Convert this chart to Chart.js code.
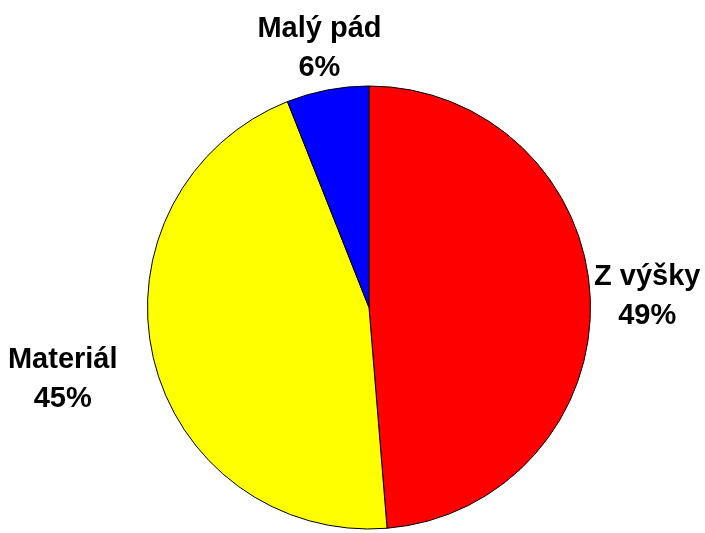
<!DOCTYPE html>
<html>
<head>
<meta charset="utf-8">
<script src="https://cdn.jsdelivr.net/npm/chart.js@4/dist/chart.umd.min.js"></script>
<style>
  html, body { margin: 0; padding: 0; background: #fff; }
  #wrap { width: 705px; height: 533px; }
</style>
</head>
<body>
<div id="wrap"><canvas id="pieChart"></canvas></div>
<script>
const categories = ['Z výšky', 'Materiál', 'Malý pád'];
const shares = [48.7, 45.3, 6.0];
const sliceColors = ['#ff0000', '#ffff00', '#0000ff'];

// draws "name / percent" outside each slice
const outsideLabels = {
    id: 'outsideLabels',
    afterDraw(chart, args, opts) {
        const ctx = chart.ctx;
        const meta = chart.getDatasetMeta(0);
        ctx.save();
        ctx.font = 'bold 29px "Liberation Sans", Arial, sans-serif';
        ctx.fillStyle = '#000';
        ctx.textAlign = 'center';
        ctx.textBaseline = 'middle';
        meta.data.forEach((arc, i) => {
            const mid = (arc.startAngle + arc.endAngle) / 2;
            const d = arc.outerRadius + opts.gap[i];
            const x = arc.x + Math.cos(mid) * d;
            const y = arc.y + Math.sin(mid) * d;
            ctx.fillText(chart.data.labels[i], x, y - 19);
            ctx.fillText(Math.round(shares[i]) + '%', x, y + 20);
        });
        ctx.restore();
    }
};

const ctx = document.getElementById('pieChart').getContext('2d');
new Chart(ctx, {
    type: 'pie',
    data: {
        labels: categories,
        datasets: [{
            data: shares,
            backgroundColor: sliceColors,
            borderColor: '#000000',
            borderWidth: 1
        }]
    },
    options: {
        responsive: true,
        maintainAspectRatio: false,
        animation: false,
        layout: {
            padding: { left: 147, right: 114, top: 85, bottom: 3 }
        },
        plugins: {
            legend: { display: false },
            tooltip: { enabled: false },
            outsideLabels: { gap: [57, 93, 43] }
        }
    },
    plugins: [outsideLabels]
});
</script>
</body>
</html>
